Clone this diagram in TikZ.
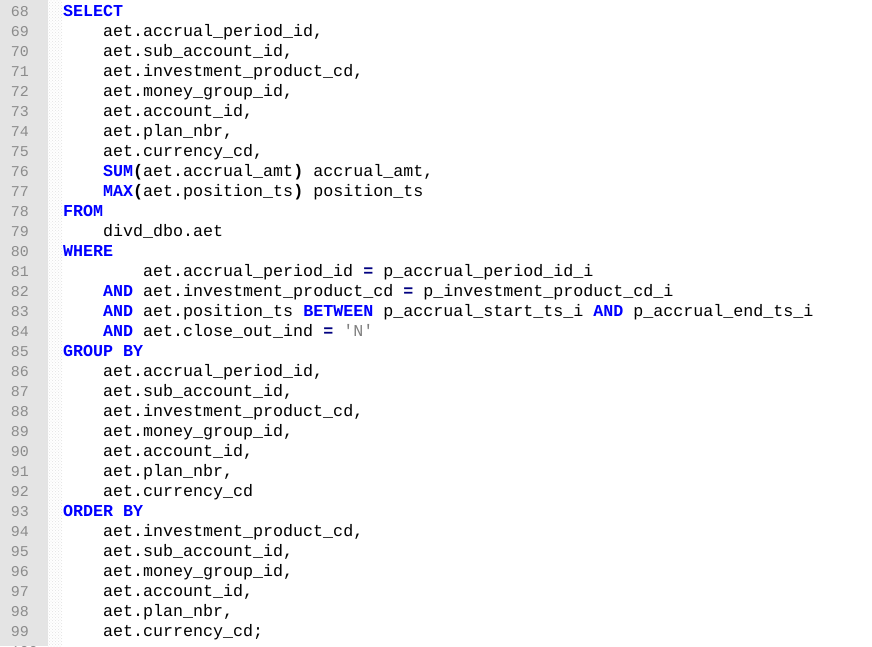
\documentclass[tikz,border=0pt]{standalone}
\usepackage{fontspec}
\newfontfamily\cf{Liberation Mono}
\usetikzlibrary{patterns}
\definecolor{kw}{HTML}{0000FF}
\definecolor{op}{HTML}{000080}
\definecolor{strc}{HTML}{808080}
\definecolor{lnum}{HTML}{8C8C8C}
\definecolor{gut}{HTML}{E4E4E4}
\newcommand{\K}[1]{\textcolor{kw}{\bfseries #1}}
\newcommand{\Pp}[1]{{\bfseries #1}}
\newcommand{\cl}[3]{%
  \node[lnumst] (n#1) at (29pt,{-(#1-68)*20pt-16pt}) {#1};
  \node[codest] (c#1) at ({63pt+#2*10pt},{-(#1-68)*20pt-16pt}) {#3};}
\begin{document}
\begin{tikzpicture}[x=1pt,y=1pt,
  lnumst/.style={anchor=base east,inner sep=0pt,font=\cf\fontsize{15pt}{18pt}\selectfont,text=lnum},
  codest/.style={anchor=base west,inner sep=0pt,font=\cf\fontsize{16.67pt}{20pt}\selectfont,text=black}]
\useasboundingbox (0,0) rectangle (872,-646);
\clip (0,0) rectangle (872,-646);
\fill[white] (0,0) rectangle (872,-646);
\fill[gut] (0,0) rectangle (48,-646);
\fill[pattern=crosshatch dots, pattern color=gut!80!black!40] (48,0) rectangle (62,-646);
\cl{68}{0}{\K{SELECT}}
\cl{69}{4}{aet.accrual\_period\_id,}
\cl{70}{4}{aet.sub\_account\_id,}
\cl{71}{4}{aet.investment\_product\_cd,}
\cl{72}{4}{aet.money\_group\_id,}
\cl{73}{4}{aet.account\_id,}
\cl{74}{4}{aet.plan\_nbr,}
\cl{75}{4}{aet.currency\_cd,}
\cl{76}{4}{\K{SUM}\Pp{(}aet.accrual\_amt\Pp{)} accrual\_amt,}
\cl{77}{4}{\K{MAX}\Pp{(}aet.position\_ts\Pp{)} position\_ts}
\cl{78}{0}{\K{FROM}}
\cl{79}{4}{divd\_dbo.aet}
\cl{80}{0}{\K{WHERE}}
\cl{81}{8}{aet.accrual\_period\_id \textcolor{op}{\bfseries =} p\_accrual\_period\_id\_i}
\cl{82}{4}{\K{AND} aet.investment\_product\_cd \textcolor{op}{\bfseries =} p\_investment\_product\_cd\_i}
\cl{83}{4}{\K{AND} aet.position\_ts \K{BETWEEN} p\_accrual\_start\_ts\_i \K{AND} p\_accrual\_end\_ts\_i}
\cl{84}{4}{\K{AND} aet.close\_out\_ind \textcolor{op}{\bfseries =} \textcolor{strc}{'N'}}
\cl{85}{0}{\K{GROUP BY}}
\cl{86}{4}{aet.accrual\_period\_id,}
\cl{87}{4}{aet.sub\_account\_id,}
\cl{88}{4}{aet.investment\_product\_cd,}
\cl{89}{4}{aet.money\_group\_id,}
\cl{90}{4}{aet.account\_id,}
\cl{91}{4}{aet.plan\_nbr,}
\cl{92}{4}{aet.currency\_cd}
\cl{93}{0}{\K{ORDER BY}}
\cl{94}{4}{aet.investment\_product\_cd,}
\cl{95}{4}{aet.sub\_account\_id,}
\cl{96}{4}{aet.money\_group\_id,}
\cl{97}{4}{aet.account\_id,}
\cl{98}{4}{aet.plan\_nbr,}
\cl{99}{4}{aet.currency\_cd;}
\node[lnumst] (n100) at (38pt,-656pt) {100};
\end{tikzpicture}
\end{document}
